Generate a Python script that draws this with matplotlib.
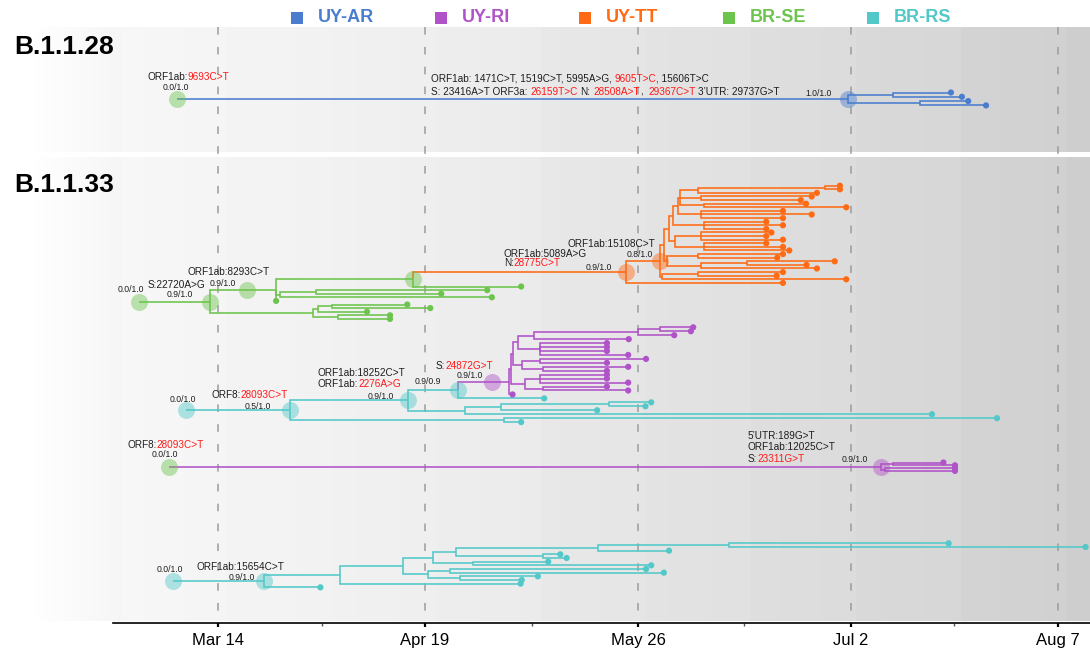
import re
import numpy as np
import matplotlib
matplotlib.use("Agg")
import matplotlib.pyplot as plt

plt.rcParams["font.family"] = ["Liberation Sans", "DejaVu Sans"]

# ---------------- data ----------------
locations = ["UY-AR", "UY-RI", "UY-TT", "BR-SE", "BR-RS"]
loc_colors = ["#4a7dce", "#b052c8", "#ff6a14", "#6cc44c", "#52c8c8"]
color_of = dict(zip(locations, loc_colors))

# days since 2020-03-14
tick_days = [0, 36, 73, 110, 146]
tick_labels = ["Mar 14", "Apr 19", "May 26", "Jul 2", "Aug 7"]
minor_days = [18, 54.5, 91.5, 128]


def N(day, *kids, loc=None, mark=None):
    # internal node: branching day, children, location, annotation key
    return {"day": day, "kids": list(kids), "loc": loc, "mark": mark}


# leaves are plain numbers: sampling day of the tip
ar_tree = N(-7.1,
            N(109.5, N(117.3, 127.4, 129.3), N(122.0, 130.4, 133.5),
              loc="UY-AR", mark="ar1"),
            loc="BR-SE", mark="ar0")

tt_clade = N(70.9,
             N(76.8,
               N(77.6,
                 N(78.4,
                   N(79.1,
                     N(80.0,
                       N(80.3, N(83.5, N(105.5, 108.1, 108.1), 104.1),
                         N(84.0, 103.2, 101.3), N(84.5, 102.2, 109.2)),
                       N(84.0, 98.2, 103.2, 98.2)),
                     N(84.5, 95.3, 98.2, 95.3)),
                   N(79.5, N(84.0, 96.2, 95.3, 98.2), N(84.5, 95.3, 98.2, 99.3))),
                 N(78.0, N(83.5, 98.2, 97.2), N(84.0, N(92.0, 107.2, 102.3), 104.1))),
               N(77.2, N(83.5, 98.2, 97.1), 109.2),
               mark="tt2"),
             98.2,
             loc="UY-TT", mark="tt1")

se_tree = N(-13.7,
            N(-1.4,
              N(5.0,
                N(10.0,
                  N(33.9, tt_clade, 52.7, mark="g3"),
                  N(10.8, N(17.0, 46.8, 38.8), 47.6),
                  10.1),
                mark="g2"),
              N(16.5, N(17.4, N(19.8, 32.9, 36.9), 25.9), N(20.9, 29.9, 29.9)),
              mark="g1"),
            loc="BR-SE", mark="g0")

ri_clade1 = N(47.6,
              N(50.6,
                N(50.9,
                  N(51.2,
                    N(52.1, N(55.0, N(73.0, N(76.9, 82.6, 82.2), 79.3), 71.4),
                      N(56.0, 67.6, 67.6, 67.6, 71.3)),
                    N(52.8, N(56.0, 74.4, 67.6), N(56.5, 71.3, 67.6))),
                  N(53.3, N(56.0, 67.6, 67.6, 71.3), N(56.5, 67.6, 71.3))),
                51.2),
              loc="UY-RI", mark="ri1")

rs_tree1 = N(-5.5,
             N(12.6,
               N(33.0,
                 N(41.7, ri_clade1, 56.7, mark="rs3"),
                 N(43.0, N(49.2, N(67.9, 75.3, 74.3), 65.9), 124.1),
                 mark="rs2"),
               N(49.7, 135.4, 52.7),
               mark="rs1"),
             loc="BR-RS", mark="rs0")

ri_tree2 = N(-8.5,
             N(115.2, N(117.4, 126.1, 128.1), N(116.0, 128.1, 128.1),
               loc="UY-RI", mark="ri2"),
             loc="BR-SE", mark="ri0")

rs_tree2 = N(-7.9,
             N(8.0,
               N(21.2,
                 N(32.1,
                   N(37.4,
                     N(41.3, N(66.1, N(88.9, 127.0, 150.8), 78.4), N(56.5, 59.5, 60.6)),
                     N(44.4, 57.4, 75.3)),
                   N(36.5, N(40.3, 74.4, 77.5), N(42.0, 55.6, 52.8))),
                 52.6),
               17.8,
               mark="rs5"),
             loc="BR-RS", mark="rs4")

support = {"ar0": "0.0/1.0", "ar1": "1.0/1.0", "g0": "0.0/1.0", "g1": "0.9/1.0",
           "g2": "0.9/1.0", "tt1": "0.9/1.0", "tt2": "0.8/1.0", "rs0": "0.0/1.0",
           "rs1": "0.5/1.0", "rs2": "0.9/1.0", "rs3": "0.9/0.9", "ri1": "0.9/1.0",
           "ri0": "0.0/1.0", "ri2": "0.9/1.0", "rs4": "0.0/1.0", "rs5": "0.9/1.0"}

# [..] = shown in red
mutations = {
    "ar0": ["ORF1ab:[9693C>T]"],
    "ar1": ["ORF1ab: 1471C>T, 1519C>T, 5995A>G, [9605T>C], 15606T>C",
            "S: 23416A>T ORF3a: [26159T>C] N: [28508A>T],  [29367C>T] 3\u2019UTR: 29737G>T"],
    "g1": ["S:22720A>G"],
    "g2": ["ORF1ab:8293C>T"],
    "tt1": ["ORF1ab:5089A>G", "N:[28775C>T]"],
    "tt2": ["ORF1ab:15108C>T"],
    "rs1": ["ORF8:[28093C>T]"],
    "rs2": ["ORF1ab:18252C>T", "ORF1ab:[2276A>G]"],
    "ri1": ["S:[24872G>T]"],
    "ri0": ["ORF8:[28093C>T]"],
    "ri2": ["5\u2019UTR:189G>T", "ORF1ab:12025C>T", "S:[23311G>T]"],
    "rs5": ["ORF1ab:15654C>T"],
}

# ---------------- layout (pixels) ----------------
W, H = 1090, 655
PX0, PPD = 218.0, 5.753          # x pixel of Mar 14, pixels per day
AX_L, AX_B, AX_T = 113, 623, 27

# first tip y and tip spacing for each tree
trees = [(ar_tree, 92.5, 4.3), (se_tree, 185.7, 3.6), (rs_tree1, 327.3, 3.95),
         (ri_tree2, 462.5, 2.8), (rs_tree2, 543.3, 3.67)]

sup_off = {"ar0": (-15, -11), "ar1": (-43, -5), "g0": (-22, -12), "g1": (-43, -7),
           "g2": (-37, -7), "tt1": (-40, -4), "tt2": (-33, -6), "rs0": (-17, -11),
           "rs1": (-46, -4), "rs2": (-40, -4), "rs3": (-43, -8), "ri1": (-35, -6),
           "ri0": (-17, -12), "ri2": (-39, -7), "rs4": (-16, -12), "rs5": (-35, -4)}
mut_off = {"ar0": (-30, -22, 0), "ar1": (-417, -20, 13), "g1": (-62, -17, 0),
           "g2": (-59, -18, 0), "tt1": (-122, -18, 9.7), "tt2": (-92, -17, 0),
           "rs1": (-79, -15, 0), "rs2": (-90, -27, 11), "ri1": (-56, -16, 0),
           "ri0": (-42, -22, 0), "ri2": (-133, -31, 11.5), "rs5": (-68, -14, 0)}


def place(node, parent_loc, cursor, step, out):
    if not isinstance(node, dict):
        y = cursor[0]
        cursor[0] += step
        out["tips"].append((node, y, parent_loc))
        return node, y, parent_loc
    loc = node["loc"] or parent_loc
    kids = [place(k, loc, cursor, step, out) for k in node["kids"]]
    y = (kids[0][1] + kids[-1][1]) / 2
    for kd, ky, kloc in kids:
        out["segs"].append(([node["day"], node["day"], kd], [y, ky, ky], kloc))
    if node["mark"]:
        out["marks"].append((node["mark"], node["day"], y, loc))
    return node["day"], y, loc


def rich_text(ax, x, y, dx, dy, s, size):
    parts = [p for p in re.split(r"(\[[^\]]*\])", s) if p]
    prev, gap = None, 0.0
    for p in parts:
        red = p.startswith("[")
        txt = p.strip("[]")
        lead = len(txt) - len(txt.lstrip(" "))
        trail = len(txt) - len(txt.rstrip(" "))
        txt = txt.strip(" ")
        col = "#ff1a1a" if red else "#1e1e1e"
        gap += lead * 0.278 * size
        if prev is None:
            prev = ax.annotate(txt, (x, y), xytext=(dx * 0.72, -dy * 0.72),
                               textcoords="offset points", ha="left", va="center",
                               fontsize=size, color=col, zorder=6)
        else:
            prev = ax.annotate(txt, xy=(1, 0), xycoords=prev, xytext=(gap, 0),
                               textcoords="offset points", ha="left", va="bottom",
                               fontsize=size, color=col, zorder=6)
        gap = trail * 0.278 * size


fig = plt.figure(figsize=(W / 100, H / 100), dpi=100)

# background panels with grey bands
bg = fig.add_axes([0, 0, 1, 1])
cols = np.arange(W) + 0.5
rows = np.arange(H) + 0.5
band_edges = 121 + 105 * np.arange(10)
band_levels = [0.957, 0.946, 0.934, 0.92, 0.898, 0.879, 0.86, 0.84, 0.818, 0.798]
shade = np.ones(W)
m = (cols >= 25) & (cols < band_edges[0])
shade[m] = 1.0 - 0.04 * (cols[m] - 25) / (band_edges[0] - 25)
for i, e in enumerate(band_edges):
    end = band_edges[i + 1] if i + 1 < len(band_edges) else W
    m = (cols >= e) & (cols < end)
    shade[m] = band_levels[i] + 0.01 * (1 - (cols[m] - e) / 105)
img = np.ones((H, W))
panel = ((rows >= 27) & (rows < 152)) | ((rows >= 157) & (rows < 621))
img[panel, :] = shade
bg.imshow(img, cmap="gray", vmin=0, vmax=1, extent=(0, W, H, 0),
          aspect="auto", interpolation="nearest")
bg.set_xlim(0, W)
bg.set_ylim(H, 0)
bg.axis("off")

# legend
for i, (name, col) in enumerate(zip(locations, loc_colors)):
    tx = 318 + 144 * i
    bg.scatter([tx - 21], [18], marker="s", s=85, color=col, linewidths=0)
    bg.text(tx, 18, name, color=col, fontsize=13, fontweight="bold", va="center", ha="left")

bg.text(14, 47, "B.1.1.28", fontsize=19, fontweight="bold", va="center", ha="left")
bg.text(14, 185, "B.1.1.33", fontsize=19, fontweight="bold", va="center", ha="left")

# main tree axes (x: days, y: pixel rows)
ax = fig.add_axes([AX_L / W, (H - AX_B) / H, (W - AX_L) / W, (AX_B - AX_T) / H])
ax.set_facecolor("none")
ax.set_xlim((AX_L - PX0) / PPD, (W - PX0) / PPD)
ax.set_ylim(AX_B, AX_T)

ax.vlines(tick_days, AX_T, 621, colors="#9c9c9c", linestyles=(0, (5, 8)),
          linewidth=1.1, zorder=1)

for tree, y0, step in trees:
    out = {"tips": [], "segs": [], "marks": []}
    place(tree, None, [y0], step, out)
    for xs, ys, loc in out["segs"]:
        ax.plot(xs, ys, color=color_of[loc], lw=1.15, zorder=2,
                solid_joinstyle="miter", solid_capstyle="butt")
    tip_x = [t[0] for t in out["tips"]]
    tip_y = [t[1] for t in out["tips"]]
    tip_c = [color_of[t[2]] for t in out["tips"]]
    ax.scatter(tip_x, tip_y, s=20, c=tip_c, linewidths=0, zorder=4)
    for key, d, y, loc in out["marks"]:
        ax.scatter([d], [y], s=150, color=color_of[loc], alpha=0.45,
                   linewidths=0, zorder=3)
        if key in support:
            dx, dy = sup_off[key]
            rich_text(ax, d, y, dx, dy, support[key], 6.2)
        if key in mutations:
            dx, dy, ls = mut_off[key]
            for j, line in enumerate(mutations[key]):
                rich_text(ax, d, y, dx, dy + j * ls, line, 7.2)

for side in ["top", "right", "left"]:
    ax.spines[side].set_visible(False)
ax.spines["bottom"].set_linewidth(1.2)
ax.set_yticks([])
ax.set_xticks(tick_days)
ax.set_xticklabels(tick_labels, fontsize=12)
ax.set_xticks(minor_days, minor=True)
ax.tick_params(axis="x", which="major", length=3, width=1.6, pad=4, color="black")
ax.tick_params(axis="x", which="minor", length=2, width=1.0, color="#555555")

fig.savefig("out.png", dpi=100)
